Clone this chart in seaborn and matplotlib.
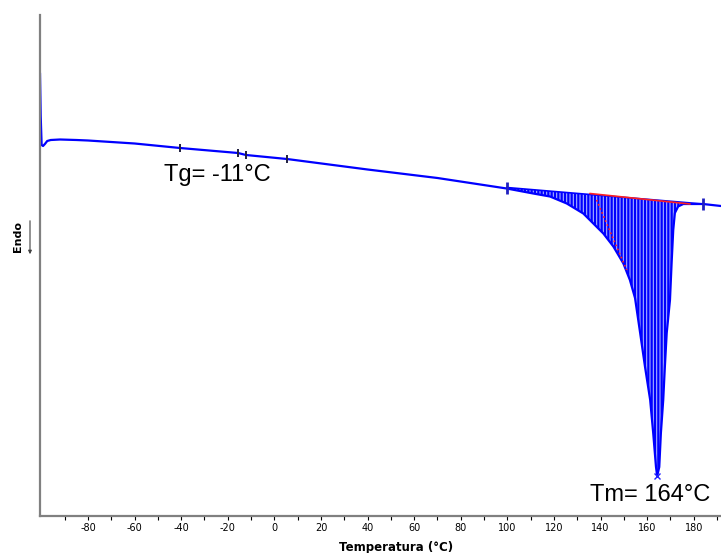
import matplotlib
matplotlib.use("Agg")
import matplotlib.pyplot as plt
import numpy as np
import pandas as pd
import seaborn as sns

# DSC trace (temperature in °C, heat flow in arbitrary units, endo down)
temp = [-100.6, -100.3, -99.9, -99.3, -98.5, -97.5, -96.0, -92.0, -85.0, -80.0,
        -60.0, -40.5, -15.6, -12.2, 5.4, 40.0, 70.0, 99.7, 111.1, 118.3,
        125.5, 132.6, 136.9, 141.2, 145.5, 149.8, 152.6, 154.8, 157.0, 159.1,
        161.3, 162.6, 163.8, 164.3, 165.2, 165.9, 166.9, 167.6, 168.4, 169.8,
        170.5, 171.2, 171.9, 173.3, 175.5, 182.7, 184.0, 191.7]
heat_flow = [8.86, 8.00, 7.42, 7.40, 7.44, 7.50, 7.52, 7.53, 7.52, 7.51,
             7.45, 7.36, 7.26, 7.22, 7.14, 6.93, 6.76, 6.55, 6.45, 6.39,
             6.25, 6.05, 5.85, 5.65, 5.39, 5.05, 4.72, 4.36, 3.66, 2.98,
             2.32, 1.66, 0.98, 0.80, 0.98, 1.66, 2.32, 2.98, 3.66, 4.32,
             5.06, 5.72, 6.06, 6.19, 6.24, 6.24, 6.24, 6.20]

# melting integration limits and baseline ends
melt_T = [99.7, 184.0]
melt_base = [6.57, 6.24]
# red partial baseline over the melting peak
red_T = [135.4, 178.4]
red_base = [6.45, 6.24]
# red dotted segment along the leading edge
red_edge_T = [138.3, 151.2]
red_edge_hf = [6.32, 4.92]

# Tg analysis marks
tg_marks_T = [-40.5, -15.6, -12.2, 5.4]
tg_marks_hf = [7.36, 7.26, 7.22, 7.14]

tm_T = 164.3
tm_hf = 0.80

df = pd.DataFrame({"T": temp, "HF": heat_flow})

sns.set_style("white")
plt.rcParams["hatch.linewidth"] = 1.6
plt.rcParams["axes.unicode_minus"] = False
plt.rcParams["text.color"] = "black"

fig = plt.figure(figsize=(7.21, 5.53), dpi=100)
ax = fig.add_axes([40 / 721, 37 / 553, 681 / 721, 501 / 553])

# hatched melting area between baseline and curve
tt = np.array(temp)
mask = (tt >= melt_T[0]) & (tt <= melt_T[1])
base = np.interp(tt[mask], melt_T, melt_base)
ax.fill_between(tt[mask], np.array(heat_flow)[mask], base, facecolor="#a9b3ff",
                edgecolor="#0000ff", hatch="|||||", linewidth=0)

sns.lineplot(data=df, x="T", y="HF", sort=False, estimator=None, color="#0000ff",
             linewidth=1.6, ax=ax)
ax.plot(melt_T, melt_base, color="#0000ff", linewidth=1.2)
ax.plot(red_T, red_base, color="#ff2020", linewidth=1.2)
ax.plot(red_edge_T, red_edge_hf, color="#ff2020", linewidth=1.2, linestyle=":")

ax.plot(tg_marks_T, tg_marks_hf, linestyle="none", marker="|", color="#202040",
        markersize=6, markeredgewidth=1.4)
ax.plot(melt_T, melt_base, linestyle="none", marker="|", color="#2020c0",
        markersize=8, markeredgewidth=2)
ax.plot([tm_T], [tm_hf], linestyle="none", marker="x", color="#2020ff",
        markersize=4, markeredgewidth=1)

ax.text(-24.6, 6.82, "Tg= -11°C", fontsize=17, family="Liberation Sans",
        color="black", ha="center", va="center")
ax.text(161.3, 0.42, "Tm= 164°C", fontsize=17, family="Liberation Sans",
        color="black", ha="center", va="center")

ax.set_xlim(-100.6, 191.7)
ax.set_ylim(0, 10.02)
ax.set_xticks(np.arange(-80, 181, 20))
ax.set_xticks(np.arange(-90, 191, 10), minor=True)
ax.set_yticks([])
ax.tick_params(axis="x", which="both", direction="out", length=3, width=0.8,
               color="black", bottom=True, labelsize=7, pad=2, labelcolor="black")
for lab in ax.get_xticklabels():
    lab.set_family(["Liberation Sans Narrow", "DejaVu Sans Condensed", "DejaVu Sans"])

for side in ["top", "right"]:
    ax.spines[side].set_visible(False)
for side in ["left", "bottom"]:
    ax.spines[side].set_color("#808080")
    ax.spines[side].set_linewidth(1.6)

ax.set_ylabel("")
ax.set_xlabel("Temperatura (°C)", fontsize=8.5, fontweight="bold", color="black")
ax.xaxis.set_label_coords(0.523, -0.050)

fig.text(18 / 721, 1 - 237 / 553, "Endo", rotation=90, fontsize=8,
         fontweight="bold", ha="center", va="center", color="black")
fig.add_artist(matplotlib.patches.FancyArrowPatch(
    (30 / 721, 1 - 218 / 553), (30 / 721, 1 - 257 / 553),
    transform=fig.transFigure, arrowstyle="-|>", mutation_scale=5,
    color="#404040", linewidth=0.8))

fig.savefig("out.png", dpi=100)
